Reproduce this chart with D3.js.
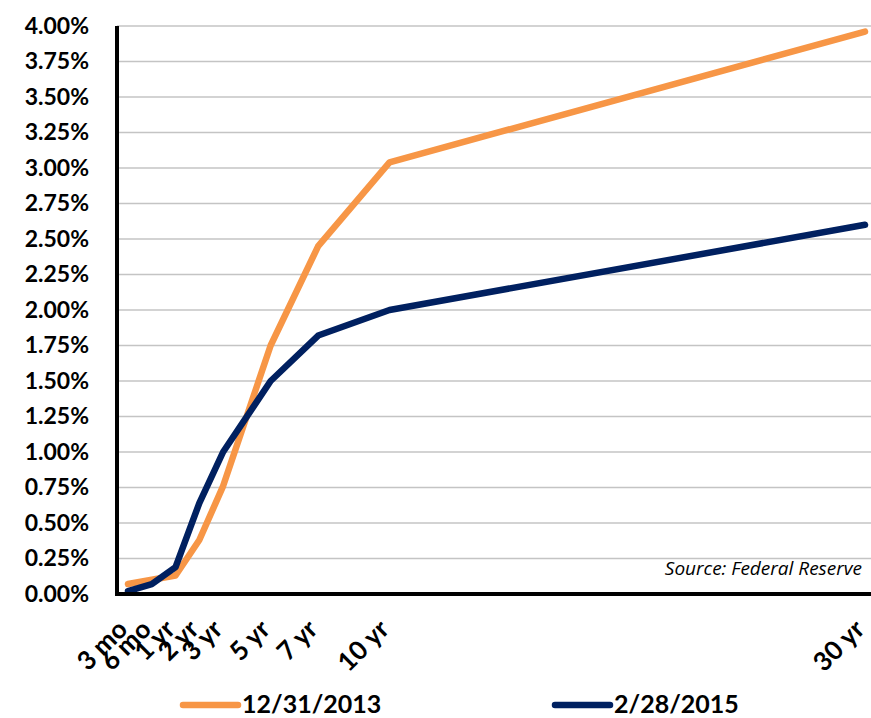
<!DOCTYPE html>
<html>
<head>
<meta charset="utf-8">
<script src="https://cdn.jsdelivr.net/npm/d3@7"></script>
<style>
  body { margin: 0; background: #fff; }
</style>
</head>
<body>
<script>
// Maturities and their spacing on the category axis
var maturities = ["3 mo", "6 mo", "1 yr", "2 yr", "3 yr", "5 yr", "7 yr", "10 yr", "30 yr"];
var maturityPos = [0, 1, 2, 3, 4, 6, 8, 11, 31];

// Yields in percent
var yields2013 = [0.07, 0.10, 0.13, 0.38, 0.76, 1.75, 2.45, 3.04, 3.96];
var yields2015 = [0.02, 0.07, 0.19, 0.64, 1.00, 1.50, 1.82, 2.00, 2.60];

var seriesNames = ["12/31/2013", "2/28/2015"];
var seriesColors = ["#f79646", "#002060"];

var yTicks = [0, 0.25, 0.5, 0.75, 1, 1.25, 1.5, 1.75, 2, 2.25, 2.5, 2.75, 3, 3.25, 3.5, 3.75, 4];

var svgWidth = 871;
var svgHeight = 718;

var margin = { top: 26, right: 6, bottom: 124, left: 117 };
var width = svgWidth - margin.left - margin.right;
var height = svgHeight - margin.top - margin.bottom;

var labelFont = "Lato, 'Open Sans', sans-serif";

var svg = d3.select("body")
  .append("svg")
  .attr("width", svgWidth)
  .attr("height", svgHeight);

var chartGroup = svg.append("g")
  .attr("transform", `translate(${margin.left}, ${margin.top})`);

var xScale = d3.scaleLinear()
  .domain([0, 31])
  .range([11, width]);

var yScale = d3.scaleLinear()
  .domain([0, 4])
  .range([height, 0]);

// gridlines
chartGroup.append("g")
  .selectAll("line")
  .data(yTicks.slice(1))
  .enter()
  .append("line")
  .attr("x1", 0)
  .attr("x2", width + margin.right)
  .attr("y1", d => yScale(d))
  .attr("y2", d => yScale(d))
  .attr("stroke", "#c4c4c4")
  .attr("stroke-width", 1.5);

// y axis labels
var leftAxis = d3.axisLeft(yScale)
  .tickValues(yTicks)
  .tickSize(0)
  .tickPadding(28)
  .tickFormat(d => d3.format(".2f")(d) + "%");

chartGroup.append("g")
  .call(leftAxis)
  .call(g => g.select(".domain").remove())
  .selectAll("text")
  .attr("font-family", labelFont)
  .attr("font-size", 23)
  .attr("font-weight", "bold")
  .attr("fill", "#000");

// x labels, rotated
chartGroup.append("g")
  .selectAll("text")
  .data(maturities)
  .enter()
  .append("text")
  .attr("transform", (d, i) => `translate(${xScale(maturityPos[i]) + 1}, ${height + 37}) rotate(-45)`)
  .attr("text-anchor", "end")
  .attr("font-family", labelFont)
  .attr("font-size", 26)
  .attr("font-weight", "bold")
  .attr("fill", "#000")
  .text(d => d);

// lines
var line = d3.line()
  .x((d, i) => xScale(maturityPos[i]))
  .y(d => yScale(d));

[yields2013, yields2015].forEach(function(values, k) {
  chartGroup.append("path")
    .datum(values)
    .attr("fill", "none")
    .attr("stroke", seriesColors[k])
    .attr("stroke-width", 6.5)
    .attr("stroke-linejoin", "round")
    .attr("stroke-linecap", "round")
    .attr("d", line);
});

// axis lines
chartGroup.append("line")
  .attr("x1", 0).attr("x2", 0)
  .attr("y1", 0).attr("y2", height + 2)
  .attr("stroke", "#000").attr("stroke-width", 4);
chartGroup.append("line")
  .attr("x1", -2).attr("x2", width + margin.right)
  .attr("y1", height).attr("y2", height)
  .attr("stroke", "#000").attr("stroke-width", 4);

// source note
chartGroup.append("text")
  .attr("x", width - 3)
  .attr("y", height - 19)
  .attr("text-anchor", "end")
  .attr("font-family", "'Open Sans', sans-serif")
  .attr("font-style", "italic")
  .attr("font-size", 19)
  .attr("fill", "#000")
  .text("Source: Federal Reserve");

// legend
var legendX = [183, 555];
var legend = svg.append("g");
seriesNames.forEach(function(name, k) {
  legend.append("line")
    .attr("x1", legendX[k]).attr("x2", legendX[k] + 55)
    .attr("y1", 705).attr("y2", 705)
    .attr("stroke", seriesColors[k])
    .attr("stroke-width", 6.5)
    .attr("stroke-linecap", "round");
  legend.append("text")
    .attr("x", legendX[k] + 59)
    .attr("y", 704)
    .attr("dy", "0.35em")
    .attr("font-family", labelFont)
    .attr("font-size", 25)
    .attr("font-weight", "bold")
    .attr("fill", "#000")
    .text(name);
});
</script>
</body>
</html>
